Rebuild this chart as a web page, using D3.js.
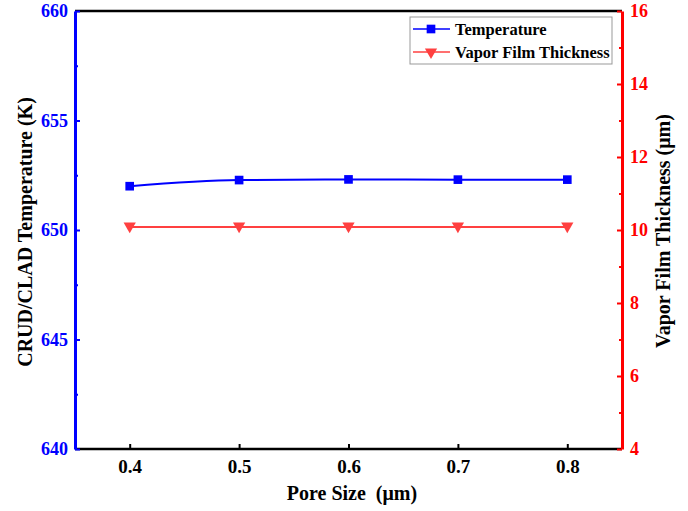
<!DOCTYPE html>
<html lang="en">
<head>
  <meta charset="UTF-8" />
  <title>Pore Size Chart</title>
  <script src="https://d3js.org/d3.v7.min.js"></script>
  <style>
    body {margin: 0; background: #fff;}
    svg text {font-family: "Liberation Serif", "Times New Roman", serif; font-weight: bold;}
  </style>
</head>
<body>
<script>
  // data
  const poreSize = [0.4, 0.5, 0.6, 0.7, 0.8];
  const temperature = [652.0, 652.28, 652.31, 652.3, 652.3];
  const filmThickness = [10.08, 10.08, 10.08, 10.08, 10.08];
  const xTicks = [0.4, 0.5, 0.6, 0.7, 0.8];
  const leftTicks = [640, 645, 650, 655, 660];
  const rightTicks = [4, 6, 8, 10, 12, 14, 16];

  const width = 688, height = 511;
  const padLeft = 75, padRight = 622, padTop = 11, padBottom = 449;

  const svg = d3.select("body").append("svg")
                .attr("width", width).attr("height", height);

  //****SCALES****
  const x = d3.scaleLinear().domain([0.35, 0.85]).range([padLeft, padRight]);
  const yL = d3.scaleLinear().domain([640, 660]).range([padBottom, padTop]);
  const yR = d3.scaleLinear().domain([4, 16]).range([padBottom, padTop]);

  //****AXES****
  const xAxis = d3.axisBottom(x).tickValues(xTicks).tickSize(-5).tickPadding(11)
                  .tickFormat(d3.format(".1f"));
  const gx = svg.append("g").attr("transform", `translate(0,${padBottom})`).call(xAxis);
  gx.select(".domain").remove();
  gx.selectAll("line").attr("stroke", "#000").attr("stroke-width", 2);
  gx.selectAll("text").attr("font-size", 19).attr("fill", "#000");

  // frame top & bottom
  svg.append("line").attr("x1", padLeft).attr("x2", padRight).attr("y1", padTop).attr("y2", padTop)
     .attr("stroke", "#000").attr("stroke-width", 2.5);
  svg.append("line").attr("x1", padLeft).attr("x2", padRight).attr("y1", padBottom).attr("y2", padBottom)
     .attr("stroke", "#000").attr("stroke-width", 2.5);

  const leftMinor = d3.range(642.5, 660, 5);
  const gLm = svg.append("g").attr("transform", `translate(${padLeft},0)`)
                 .call(d3.axisLeft(yL).tickValues(leftMinor).tickSize(-3).tickFormat(""));
  gLm.select(".domain").remove();
  gLm.selectAll("line").attr("stroke", "#0000ff").attr("stroke-width", 2);

  const gL = svg.append("g").attr("transform", `translate(${padLeft},0)`)
                .call(d3.axisLeft(yL).tickValues(leftTicks).tickSize(-5).tickPadding(7).tickSizeOuter(0));
  gL.select(".domain").attr("stroke", "#0000ff").attr("stroke-width", 3);
  gL.selectAll("line").attr("stroke", "#0000ff").attr("stroke-width", 2);
  gL.selectAll("text").attr("font-size", 18).attr("fill", "#0000ff");

  const rightMinor = d3.range(5, 16, 2);
  const gRm = svg.append("g").attr("transform", `translate(${padRight},0)`)
                 .call(d3.axisRight(yR).tickValues(rightMinor).tickSize(-3).tickFormat(""));
  gRm.select(".domain").remove();
  gRm.selectAll("line").attr("stroke", "#ff0000").attr("stroke-width", 2);

  const gR = svg.append("g").attr("transform", `translate(${padRight},0)`)
                .call(d3.axisRight(yR).tickValues(rightTicks).tickSize(-5).tickPadding(8).tickSizeOuter(0));
  gR.select(".domain").attr("stroke", "#ff0000").attr("stroke-width", 3);
  gR.selectAll("line").attr("stroke", "#ff0000").attr("stroke-width", 2);
  gR.selectAll("text").attr("font-size", 18).attr("fill", "#ff0000");

  //****AXIS TITLES****
  svg.append("text").attr("x", 352).attr("y", 500)
     .attr("text-anchor", "middle").attr("font-size", 20).text("Pore Size  (μm)")
     .attr("xml:space", "preserve").style("white-space", "pre");
  svg.append("text").attr("transform", `translate(32,${232}) rotate(-90)`)
     .attr("text-anchor", "middle").attr("font-size", 20).text("CRUD/CLAD Temperature (K)");
  svg.append("text").attr("transform", `translate(670,${231}) rotate(-90)`)
     .attr("text-anchor", "middle").attr("font-size", 20).text("Vapor Film Thickness (μm)");

  //****LINES****
  const tempLine = d3.line().x((d, i) => x(poreSize[i])).y(d => yL(d)).curve(d3.curveMonotoneX);
  const filmLine = d3.line().x((d, i) => x(poreSize[i])).y(d => yR(d)).curve(d3.curveMonotoneX);

  svg.append("path").attr("d", tempLine(temperature)).attr("fill", "none")
     .attr("stroke", "#0000ff").attr("stroke-width", 2);
  svg.append("path").attr("d", filmLine(filmThickness)).attr("fill", "none")
     .attr("stroke", "#ff4040").attr("stroke-width", 2);

  const square = d3.symbol().type(d3.symbolSquare).size(75);
  const tri = d3.symbol().type(d3.symbolTriangle).size(65);

  svg.selectAll(".sq").data(temperature).join("path").attr("class", "sq")
     .attr("d", square).attr("fill", "#0000ff")
     .attr("transform", (d, i) => `translate(${x(poreSize[i])},${yL(d)})`);
  svg.selectAll(".tr").data(filmThickness).join("path").attr("class", "tr")
     .attr("d", tri).attr("fill", "#ff4040")
     .attr("transform", (d, i) => `translate(${x(poreSize[i])},${yR(d) - 1}) rotate(180)`);

  //****LEGEND****
  const lg = svg.append("g");
  lg.append("rect").attr("x", 410).attr("y", 17).attr("width", 202).attr("height", 47)
    .attr("fill", "#fff").attr("stroke", "#999").attr("stroke-width", 1);
  const items = [
    {name: "Temperature", color: "#0000ff", sym: square, rot: 0, y: 29},
    {name: "Vapor Film Thickness", color: "#ff4040", sym: tri, rot: 180, y: 52}
  ];
  items.forEach(it => {
    lg.append("line").attr("x1", 413).attr("x2", 450).attr("y1", it.y).attr("y2", it.y)
      .attr("stroke", it.color).attr("stroke-width", 1.5);
    lg.append("path").attr("d", it.sym).attr("fill", it.color)
      .attr("transform", `translate(431,${it.y}) rotate(${it.rot})`);
    lg.append("text").attr("x", 455).attr("y", it.y + 6).attr("font-size", 16.5).text(it.name);
  });
</script>
</body>
</html>
